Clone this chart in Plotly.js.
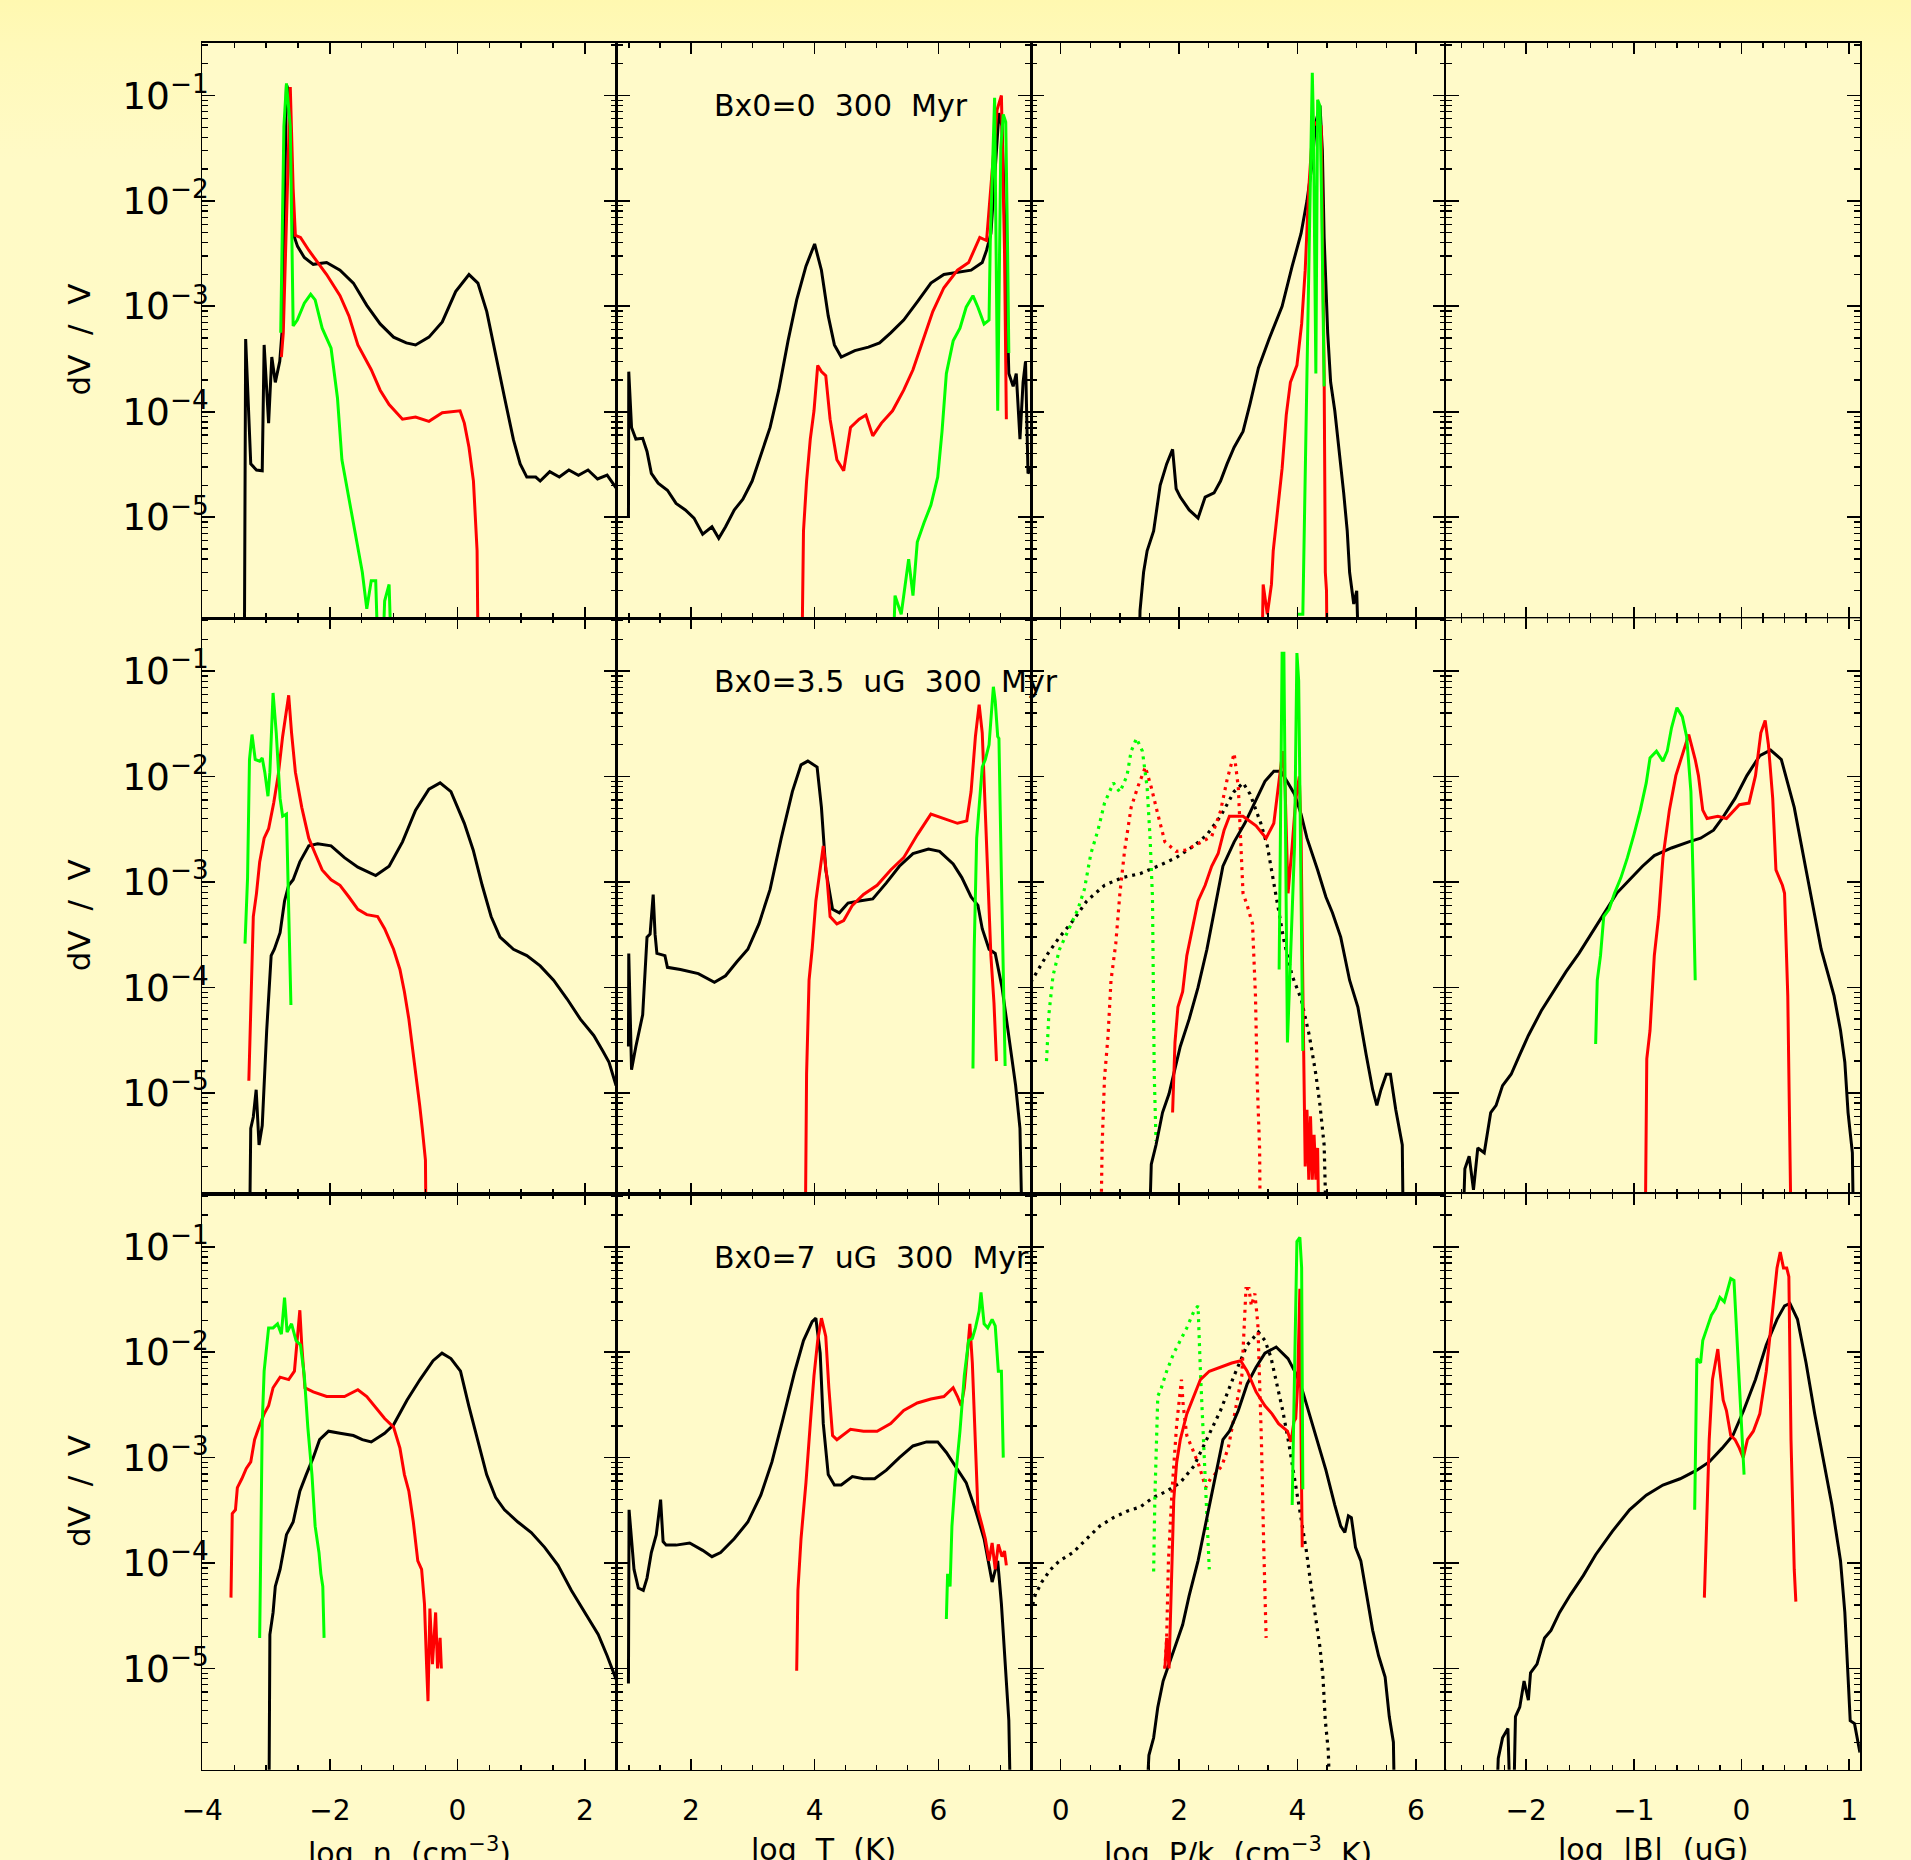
<!DOCTYPE html>
<html>
<head>
<meta charset="utf-8">
<script src="https://cdn.plot.ly/plotly-3.0.1.min.js"></script>
<style>
html,body{margin:0;padding:0;}
#wrap{width:1911px;height:1860px;background:linear-gradient(180deg,#FFF8B0 0px,#FFF9B9 45px,#FFFAC6 160px,#FFFAC9 100%);}
#chart{width:1911px;height:1860px;}
</style>
</head>
<body>
<div id="wrap"><div id="chart"></div></div>
<script>
// ---------------- DATA ----------------
// Row 1: Bx0=0
const b0_n_blk_x=[-3.345,-3.32,-3.24,-3.15,-3.06,-3.03,-2.96,-2.91,-2.855,-2.785,-2.74,-2.68,-2.645,-2.575,-2.506,-2.40,-2.26,-2.05,-1.84,-1.63,-1.42,-1.21,-1.00,-0.80,-0.655,-0.445,-0.236,-0.026,0.183,0.323,0.462,0.602,0.742,0.881,0.986,1.09,1.23,1.30,1.45,1.60,1.75,1.90,2.05,2.20,2.35,2.49];
const b0_n_blk_y=[1e-7,4.9e-4,3.2e-5,2.8e-5,2.75e-5,4.3e-4,7.8e-5,3.3e-4,1.9e-4,3.0e-4,6.8e-4,0.126,0.11,4.9e-3,3.7e-3,2.9e-3,2.5e-3,2.6e-3,2.2e-3,1.66e-3,1.02e-3,6.8e-4,5.1e-4,4.5e-4,4.3e-4,5.1e-4,7.1e-4,1.38e-3,2.0e-3,1.66e-3,8.9e-4,3.6e-4,1.35e-4,5.4e-5,3.2e-5,2.4e-5,2.4e-5,2.2e-5,2.7e-5,2.4e-5,2.8e-5,2.5e-5,2.8e-5,2.3e-5,2.5e-5,1.9e-5];
const b0_n_red_x=[-2.76,-2.73,-2.62,-2.575,-2.54,-2.46,-2.33,-2.19,-2.05,-1.84,-1.70,-1.56,-1.35,-1.21,-1.07,-0.86,-0.655,-0.445,-0.236,0.043,0.11,0.183,0.253,0.31,0.337];
const b0_n_red_y=[3.3e-4,5.6e-4,0.12,1.3e-2,4.7e-3,4.5e-3,3.4e-3,2.6e-3,2.0e-3,1.26e-3,8.1e-4,4.3e-4,2.5e-4,1.6e-4,1.17e-4,8.5e-5,8.9e-5,8.1e-5,9.8e-5,1.02e-4,7.8e-5,4.6e-5,2.2e-5,4.8e-6,1e-7];
const b0_n_grn_x=[-2.77,-2.72,-2.68,-2.62,-2.575,-2.51,-2.40,-2.30,-2.23,-2.12,-1.98,-1.88,-1.81,-1.70,-1.60,-1.49,-1.42,-1.35,-1.28,-1.21,-1.14,-1.07,-1.00];
const b0_n_grn_y=[5.6e-4,5.1e-2,0.13,5.1e-2,6.5e-4,7.4e-4,1.07e-3,1.3e-3,1.15e-3,6.2e-4,4.0e-4,1.35e-4,3.5e-5,1.55e-5,7.4e-6,3.0e-6,1.35e-6,2.5e-6,2.5e-6,1e-7,1.6e-6,2.3e-6,1e-7];

const b0_T_blk_x=[0.99,0.995,1.04,1.11,1.22,1.29,1.36,1.47,1.62,1.76,1.91,2.05,2.19,2.34,2.45,2.56,2.70,2.84,2.99,3.13,3.28,3.42,3.57,3.71,3.86,4.00,4.11,4.22,4.32,4.43,4.65,4.87,5.05,5.23,5.44,5.66,5.88,6.09,6.31,6.53,6.71,6.78,6.85,6.92,6.98,7.03,7.09,7.14,7.21,7.26,7.32,7.37,7.41,7.45,7.50];
const b0_T_blk_y=[1.0e-5,2.4e-4,7.1e-5,5.5e-5,5.6e-5,4.2e-5,2.6e-5,2.1e-5,1.8e-5,1.35e-5,1.17e-5,9.8e-6,6.9e-6,8.1e-6,6.3e-6,8.1e-6,1.17e-5,1.48e-5,2.2e-5,3.8e-5,7.1e-5,1.6e-4,4.7e-4,1.15e-3,2.4e-3,3.9e-3,2.2e-3,8.1e-4,4.3e-4,3.3e-4,3.8e-4,4.1e-4,4.5e-4,5.6e-4,7.4e-4,1.1e-3,1.66e-3,2.0e-3,2.1e-3,2.2e-3,2.6e-3,3.4e-3,4.9e-3,2.1e-2,6.8e-2,5.1e-2,3.4e-3,2.3e-4,1.74e-4,2.3e-4,5.5e-5,1.9e-4,3.0e-4,2.6e-5,2.9e-5];
const b0_T_red_x=[3.78,3.82,3.87,3.93,3.99,4.05,4.11,4.18,4.25,4.36,4.47,4.58,4.72,4.83,4.94,5.08,5.26,5.44,5.59,5.73,5.91,6.09,6.31,6.49,6.60,6.67,6.78,6.85,6.95,7.02,7.07,7.10];
const b0_T_red_y=[1e-7,7.4e-6,2.2e-5,5.5e-5,1.02e-4,2.75e-4,2.4e-4,2.2e-4,8.5e-5,3.5e-5,2.75e-5,7.1e-5,8.5e-5,9.3e-5,5.9e-5,7.8e-5,1.02e-4,1.6e-4,2.5e-4,4.3e-4,8.9e-4,1.5e-3,2.2e-3,2.6e-3,3.7e-3,4.5e-3,4.2e-3,1.3e-2,7.3e-2,0.1,3.4e-3,8.5e-5];
const b0_T_grn_x=[5.23,5.30,5.40,5.52,5.59,5.66,5.77,5.88,5.99,6.06,6.13,6.24,6.35,6.45,6.56,6.64,6.74,6.82,6.84,6.91,6.96,7.01,7.05,7.09,7.12,7.14];
const b0_T_grn_y=[1e-7,1.8e-6,1.2e-6,4.0e-6,1.8e-6,5.8e-6,8.9e-6,1.3e-5,2.4e-5,6.5e-5,2.3e-4,4.7e-4,6.2e-4,9.8e-4,1.26e-3,9.8e-4,6.8e-4,7.4e-4,4.1e-3,9.5e-2,1.02e-4,3.2e-2,6.6e-2,5.6e-2,3.4e-3,3.6e-4];

const b0_P_blk_x=[1.30,1.34,1.40,1.46,1.57,1.68,1.79,1.89,1.95,2.02,2.17,2.32,2.44,2.59,2.70,2.81,2.93,3.08,3.20,3.34,3.52,3.74,3.91,4.06,4.16,4.24,4.31,4.38,4.42,4.45,4.51,4.56,4.63,4.70,4.78,4.84,4.88,4.95,5.00,5.07];
const b0_P_blk_y=[1e-7,1.3e-6,3.0e-6,4.8e-6,7.4e-6,2.0e-5,3.2e-5,4.4e-5,1.86e-5,1.55e-5,1.17e-5,9.8e-6,1.55e-5,1.7e-5,2.2e-5,3.2e-5,4.6e-5,6.5e-5,1.2e-4,2.6e-4,4.9e-4,1.0e-3,2.4e-3,4.9e-3,1.0e-2,2.1e-2,5.6e-2,8.0e-2,3.0e-2,4.5e-3,5.6e-4,1.9e-4,1.02e-4,4.6e-5,1.7e-5,7.4e-6,3.0e-6,1.5e-6,2e-6,1e-7];
const b0_P_red_x=[3.38,3.42,3.49,3.56,3.59,3.67,3.74,3.81,3.88,3.99,4.07,4.13,4.19,4.26,4.33,4.40,4.45,4.47,4.49,4.51];
const b0_P_red_y=[1e-7,2.3e-6,1.2e-6,2.3e-6,4.8e-6,1.17e-5,2.9e-5,9.3e-5,1.9e-4,2.75e-4,6.8e-4,2.2e-3,1.3e-2,5.1e-2,5.6e-2,5.1e-2,2.3e-4,3.0e-6,2e-6,1e-7];
const b0_P_grn_x=[3.99,4.09,4.16,4.21,4.25,4.27,4.31,4.34,4.38,4.41,4.45];
const b0_P_grn_y=[1.2e-6,1.2e-6,2.3e-4,1e-2,0.164,5.1e-2,2.3e-4,9.1e-2,7.9e-2,8.3e-3,1.74e-4];

// Row 2: Bx0=3.5 uG
const b35_n_grn_x=[-3.33,-3.29,-3.26,-3.22,-3.17,-3.10,-3.06,-3.02,-2.97,-2.94,-2.89,-2.84,-2.78,-2.74,-2.68,-2.645,-2.61];
const b35_n_grn_y=[2.6e-4,1.1e-3,1.45e-2,2.5e-2,1.45e-2,1.4e-2,1.5e-2,1.1e-2,6.5e-3,1.1e-2,6.2e-2,2.6e-2,6.2e-3,4.2e-3,4.4e-3,7.2e-4,6.8e-5];
const b35_n_red_x=[-3.27,-3.24,-3.20,-3.15,-3.10,-3.03,-2.96,-2.88,-2.81,-2.74,-2.645,-2.60,-2.54,-2.44,-2.33,-2.23,-2.12,-1.98,-1.84,-1.70,-1.56,-1.42,-1.25,-1.14,-1.00,-0.90,-0.83,-0.76,-0.69,-0.64,-0.59,-0.55,-0.50,-0.48];
const b35_n_red_y=[1.3e-5,5.5e-5,4.7e-4,7.8e-4,1.55e-3,2.6e-3,3.2e-3,5.6e-3,1.02e-2,2.4e-2,5.9e-2,2.6e-2,1.1e-2,5.1e-3,2.6e-3,1.86e-3,1.3e-3,1.05e-3,9.3e-4,7.2e-4,5.5e-4,4.9e-4,4.7e-4,3.6e-4,2.3e-4,1.48e-4,9.1e-5,5.0e-5,2.3e-5,1.5e-5,7.6e-6,4.6e-6,2.3e-6,1e-7];
const b35_n_blk_x=[-3.27,-3.24,-3.20,-3.155,-3.11,-3.06,-2.99,-2.92,-2.87,-2.78,-2.71,-2.645,-2.575,-2.47,-2.33,-2.19,-1.98,-1.77,-1.56,-1.28,-1.07,-0.86,-0.655,-0.445,-0.27,-0.10,0.11,0.25,0.39,0.53,0.67,0.88,1.09,1.30,1.51,1.72,1.93,2.14,2.28,2.38,2.49];
const b35_n_blk_y=[1e-7,4.6e-6,5.9e-6,1.07e-5,3.2e-6,4.9e-6,3.9e-5,2.0e-4,2.3e-4,3.3e-4,6.6e-4,9.3e-4,1.05e-3,1.55e-3,2.2e-3,2.3e-3,2.2e-3,1.7e-3,1.38e-3,1.15e-3,1.41e-3,2.4e-3,4.8e-3,7.6e-3,8.7e-3,7.2e-3,3.6e-3,2.0e-3,9.3e-4,4.7e-4,3.0e-4,2.3e-4,2.0e-4,1.6e-4,1.17e-4,7.8e-5,5.0e-5,3.5e-5,2.5e-5,1.95e-5,1.17e-5];

const b35_T_blk_x=[0.99,0.995,1.04,1.11,1.22,1.29,1.34,1.39,1.42,1.45,1.58,1.62,1.83,2.12,2.38,2.56,2.74,2.92,3.10,3.28,3.46,3.64,3.78,3.89,4.04,4.11,4.18,4.29,4.40,4.54,4.72,4.94,5.16,5.37,5.59,5.84,6.02,6.24,6.38,6.53,6.64,6.71,6.82,6.92,7.03,7.14,7.25,7.32,7.38];
const b35_T_blk_y=[2.75e-5,2.1e-4,1.66e-5,2.75e-5,5.5e-5,3.0e-4,3.2e-4,7.6e-4,3.2e-4,2.1e-4,2.0e-4,1.55e-4,1.48e-4,1.35e-4,1.12e-4,1.29e-4,1.74e-4,2.3e-4,4.0e-4,8.5e-4,2.6e-3,7.2e-3,1.29e-2,1.4e-2,1.23e-2,5.1e-3,1.3e-3,5.5e-4,5.1e-4,6.3e-4,6.6e-4,6.9e-4,9.8e-4,1.41e-3,1.86e-3,2.05e-3,1.95e-3,1.48e-3,1.1e-3,7.2e-4,6.0e-4,3.6e-4,2.3e-4,2.1e-4,1.0e-4,3.5e-5,1.17e-5,4.6e-6,1e-7];
const b35_T_red_x=[3.84,3.87,3.91,3.96,4.02,4.09,4.14,4.20,4.25,4.36,4.47,4.61,4.79,5.01,5.23,5.44,5.66,5.88,6.09,6.31,6.46,6.53,6.60,6.66,6.71,6.78,6.85,6.90,6.94];
const b35_T_red_y=[1e-7,1.5e-5,1.17e-4,2.3e-4,6.6e-4,1.3e-3,2.2e-3,1.1e-3,4.7e-4,4.0e-4,4.3e-4,6.0e-4,7.6e-4,9.3e-4,1.3e-3,1.7e-3,2.8e-3,4.4e-3,4.0e-3,3.6e-3,3.8e-3,7.2e-3,2.4e-2,4.8e-2,2.6e-2,2.6e-3,2.0e-4,7.1e-5,2.0e-5];
const b35_T_grn_x=[6.56,6.58,6.62,6.66,6.71,6.76,6.82,6.89,6.92,6.96,6.98,7.02,7.05,7.08];
const b35_T_grn_y=[1.7e-5,2.3e-4,2.6e-3,5.1e-3,1.23e-2,1.45e-2,2.0e-2,7.1e-2,5.2e-2,2.4e-2,2.3e-2,1.1e-3,1.29e-4,1.8e-5];

const b35_P_blk_x=[1.46,1.53,1.61,1.72,1.83,1.95,2.02,2.17,2.32,2.47,2.62,2.74,2.93,3.11,3.30,3.45,3.60,3.72,3.84,3.95,4.06,4.16,4.34,4.48,4.59,4.73,4.88,5.02,5.16,5.27,5.34,5.41,5.50,5.57,5.66,5.77,5.80];
const b35_P_blk_y=[1e-7,2.1e-6,3.2e-6,6.5e-6,9.8e-6,1.95e-5,2.75e-5,5.0e-5,1.0e-4,2.3e-4,6.6e-4,1.41e-3,2.4e-3,3.6e-3,6.0e-3,9.0e-3,1.12e-2,1.12e-2,8.7e-3,6.8e-3,4.4e-3,2.6e-3,1.3e-3,7.2e-4,5.1e-4,3.0e-4,1.17e-4,6.5e-5,2.3e-5,1.07e-5,7.6e-6,1.07e-5,1.5e-5,1.5e-5,6.9e-6,3.2e-6,1e-7];
const b35_P_red_x=[1.89,1.93,1.98,2.06,2.13,2.21,2.32,2.44,2.55,2.66,2.76,2.85,3.08,3.30,3.47,3.60,3.66,3.72,3.75,3.79,3.84,3.91,3.97,4.03,4.06,4.09,4.11,4.13,4.16,4.19,4.22,4.25,4.28,4.31,4.34,4.38];
const b35_P_red_y=[6.5e-6,3.0e-5,6.5e-5,9.1e-5,2.0e-4,3.3e-4,6.6e-4,9.3e-4,1.41e-3,1.86e-3,3.1e-3,4.2e-3,4.2e-3,3.4e-3,2.6e-3,3.6e-3,7e-3,1.3e-2,1.74e-2,8e-3,7.8e-4,2.2e-3,6e-3,1.0e-2,3e-3,1e-4,6.9e-6,2e-6,6.9e-6,1.5e-6,6e-6,1.5e-6,4e-6,1.5e-6,3e-6,1e-7];
const b35_P_grn_x=[3.69,3.72,3.74,3.77,3.80,3.83,3.95,3.99,4.02,4.06,4.09];
const b35_P_grn_y=[1.48e-4,6.2e-3,0.148,0.148,2.6e-3,3.0e-5,2.2e-3,0.148,8.1e-2,1.1e-3,2.5e-5];
const b35_P_blkDot_x=[-0.505,-0.24,-0.02,0.21,0.44,0.74,1.04,1.34,1.64,1.95,2.25,2.47,2.70,2.93,3.08,3.20,3.38,3.49,3.63,3.77,3.91,4.06,4.20,4.31,4.38,4.45,4.52];
const b35_P_blkDot_y=[1.12e-4,2.0e-4,3.0e-4,4.3e-4,6.6e-4,9.3e-4,1.1e-3,1.2e-3,1.41e-3,1.7e-3,2.2e-3,2.8e-3,4.2e-3,7.2e-3,8.7e-3,6.8e-3,3.6e-3,2.2e-3,7.8e-4,2.8e-4,1.29e-4,7.8e-5,3.5e-5,1.5e-5,7.6e-6,3.2e-6,1e-7];
const b35_P_redDot_x=[0.66,0.70,0.74,0.80,0.85,0.93,1.00,1.08,1.19,1.30,1.43,1.53,1.64,1.76,1.95,2.10,2.32,2.55,2.70,2.81,2.93,3.00,3.08,3.15,3.24,3.29,3.32,3.36,3.38];
const b35_P_redDot_y=[1e-7,3.2e-6,1.38e-5,3.5e-5,1.17e-4,2.6e-4,7.8e-4,2.0e-3,5.1e-3,7.9e-3,1.23e-2,7.9e-3,4.4e-3,2.4e-3,1.95e-3,2.0e-3,2.3e-3,2.7e-3,4.7e-3,9.3e-3,1.66e-2,7.9e-3,7.8e-4,6.0e-4,4.0e-4,8.3e-5,1.26e-5,2.95e-6,1e-7];
const b35_P_grnDot_x=[-0.24,-0.20,-0.13,-0.02,0.14,0.29,0.40,0.51,0.63,0.74,0.89,1.00,1.12,1.19,1.28,1.38,1.46,1.51,1.55,1.57,1.58,1.61];
const b35_P_grnDot_y=[2.0e-5,5.5e-5,1.29e-4,2.3e-4,3.6e-4,5.5e-4,8.5e-4,1.86e-3,3.1e-3,5.6e-3,8.7e-3,7.1e-3,1.02e-2,1.74e-2,2.3e-2,1.74e-2,7.9e-3,2.6e-3,7.2e-4,8.3e-5,1.5e-5,3.5e-6];

const b35_B_blk_x=[-2.61,-2.57,-2.53,-2.49,-2.45,-2.39,-2.33,-2.28,-2.22,-2.14,-2.06,-1.98,-1.86,-1.75,-1.63,-1.51,-1.39,-1.28,-1.16,-1.04,-0.92,-0.81,-0.65,-0.49,-0.38,-0.26,-0.18,-0.06,0.05,0.17,0.27,0.37,0.49,0.60,0.74,0.86,0.92,0.96,0.99,1.03,1.05];
const b35_B_blk_y=[1e-7,1.9e-6,2.5e-6,1.2e-6,3.0e-6,2.7e-6,6.5e-6,7.6e-6,1.17e-5,1.5e-5,2.3e-5,3.5e-5,6.0e-5,9.1e-5,1.41e-4,2.1e-4,3.3e-4,5.1e-4,7.8e-4,1.05e-3,1.41e-3,1.78e-3,2.1e-3,2.4e-3,2.6e-3,3.1e-3,4.0e-3,6.2e-3,1.02e-2,1.58e-2,1.78e-2,1.45e-2,5.1e-3,1.3e-3,2.3e-4,8.3e-5,3.9e-5,1.95e-5,6.5e-6,2.7e-6,1e-7];
const b35_B_grn_x=[-1.355,-1.34,-1.31,-1.28,-1.23,-1.18,-1.12,-1.06,-1.00,-0.94,-0.885,-0.85,-0.79,-0.73,-0.69,-0.65,-0.60,-0.55,-0.51,-0.47,-0.45,-0.43];
const b35_B_grn_y=[2.9e-5,1.17e-4,2.0e-4,4.7e-4,5.5e-4,7.8e-4,1.1e-3,1.7e-3,2.8e-3,4.8e-3,8.7e-3,1.5e-2,1.74e-2,1.4e-2,1.74e-2,2.9e-2,4.5e-2,3.7e-2,2.4e-2,7.2e-3,1.1e-3,1.17e-4];
const b35_B_red_x=[-0.90,-0.88,-0.85,-0.81,-0.77,-0.73,-0.67,-0.61,-0.53,-0.49,-0.43,-0.40,-0.36,-0.32,-0.22,-0.14,-0.02,0.07,0.13,0.18,0.22,0.25,0.29,0.32,0.38,0.40,0.43,0.45,0.47];
const b35_B_red_y=[1e-7,2.1e-5,3.9e-5,2.0e-4,4.7e-4,1.7e-3,4.8e-3,1.02e-2,1.86e-2,2.5e-2,1.45e-2,1.02e-2,4.8e-3,4.0e-3,4.2e-3,4.0e-3,5.4e-3,5.6e-3,1.02e-2,2.6e-2,3.4e-2,2.0e-2,6.2e-3,1.3e-3,9.3e-4,7.8e-4,8.3e-5,6.5e-6,1e-7];

// Row 3: Bx0=7 uG
const b7_n_red_x=[-3.55,-3.53,-3.48,-3.45,-3.38,-3.31,-3.24,-3.18,-3.11,-3.03,-2.96,-2.89,-2.78,-2.645,-2.555,-2.51,-2.47,-2.44,-2.39,-2.26,-2.05,-1.77,-1.56,-1.42,-1.28,-1.14,-1.00,-0.90,-0.83,-0.76,-0.69,-0.62,-0.56,-0.515,-0.48,-0.46,-0.43,-0.39,-0.34,-0.31,-0.27,-0.25];
const b7_n_red_y=[4.7e-5,2.95e-4,3.2e-4,5.2e-4,6.3e-4,7.9e-4,9.1e-4,1.48e-3,1.95e-3,2.6e-3,3.1e-3,4.6e-3,5.8e-3,5.5e-3,6.6e-3,1.29e-2,2.5e-2,1.17e-2,4.6e-3,4.2e-3,3.8e-3,3.8e-3,4.4e-3,3.8e-3,3.0e-3,2.35e-3,1.95e-3,1.23e-3,6.9e-4,4.8e-4,2.45e-4,1.05e-4,8.7e-5,4.1e-5,1.0e-5,4.9e-6,3.7e-5,1.1e-5,3.4e-5,1.0e-5,1.95e-5,1.0e-5];
const b7_n_grn_x=[-3.10,-3.06,-3.03,-2.96,-2.89,-2.82,-2.76,-2.71,-2.67,-2.60,-2.53,-2.46,-2.40,-2.345,-2.28,-2.23,-2.17,-2.14,-2.11,-2.09];
const b7_n_grn_y=[1.95e-5,2.1e-3,6.6e-3,1.7e-2,1.7e-2,1.86e-2,1.48e-2,3.3e-2,1.55e-2,1.86e-2,1.29e-2,1.17e-2,6.0e-3,1.95e-3,6.9e-4,2.24e-4,1.26e-4,7.9e-5,6.0e-5,1.95e-5];
const b7_n_blk_x=[-2.96,-2.94,-2.89,-2.855,-2.78,-2.68,-2.575,-2.47,-2.37,-2.26,-2.16,-2.02,-1.84,-1.63,-1.49,-1.35,-1.14,-1.00,-0.79,-0.585,-0.38,-0.24,-0.10,0.05,0.18,0.32,0.46,0.60,0.74,0.95,1.16,1.37,1.58,1.79,2.00,2.21,2.35,2.49];
const b7_n_blk_y=[1e-7,2.1e-5,3.4e-5,6.0e-5,8.7e-5,1.86e-4,2.45e-4,4.8e-4,6.9e-4,1.0e-3,1.48e-3,1.78e-3,1.7e-3,1.62e-3,1.48e-3,1.41e-3,1.7e-3,2.05e-3,3.5e-3,5.5e-3,8.3e-3,9.8e-3,8.7e-3,6.6e-3,3.1e-3,1.48e-3,6.9e-4,4.2e-4,3.2e-4,2.45e-4,1.95e-4,1.41e-4,9.5e-5,5.5e-5,3.4e-5,2.1e-5,1.32e-5,7.9e-6];

const b7_T_blk_x=[0.99,1.00,1.08,1.15,1.23,1.29,1.36,1.44,1.51,1.55,1.60,1.76,1.98,2.19,2.34,2.48,2.70,2.92,3.13,3.31,3.49,3.68,3.82,3.96,4.02,4.09,4.14,4.22,4.32,4.43,4.61,4.79,4.97,5.16,5.37,5.59,5.81,5.99,6.13,6.27,6.45,6.60,6.74,6.87,6.96,7.02,7.09,7.14,7.19];
const b7_T_blk_y=[7.2e-6,3.2e-4,8.7e-5,5.8e-5,5.5e-5,7.2e-5,1.26e-4,1.86e-4,4.0e-4,1.6e-4,1.48e-4,1.48e-4,1.55e-4,1.32e-4,1.15e-4,1.26e-4,1.7e-4,2.45e-4,4.4e-4,9.1e-4,2.35e-3,6.6e-3,1.29e-2,1.95e-2,2.1e-2,9.8e-3,2.1e-3,6.9e-4,5.5e-4,5.5e-4,6.6e-4,6.3e-4,6.3e-4,7.6e-4,1.0e-3,1.29e-3,1.41e-3,1.41e-3,1.12e-3,8.3e-4,5.8e-4,3.2e-4,1.7e-4,6.6e-5,1.05e-4,4.1e-5,1.0e-5,3.2e-6,1e-7];
const b7_T_red_x=[3.71,3.73,3.78,3.86,3.93,3.99,4.05,4.11,4.18,4.23,4.29,4.36,4.58,4.79,5.01,5.23,5.44,5.66,5.88,6.09,6.24,6.31,6.37,6.42,6.47,6.51,6.55,6.60,6.64,6.71,6.76,6.82,6.87,6.92,6.97,7.03,7.07,7.10];
const b7_T_red_y=[9.5e-6,5.5e-5,1.7e-4,5.8e-4,2.1e-3,6.0e-3,1.29e-2,2.1e-2,1.41e-2,4.6e-3,1.62e-3,1.48e-3,1.86e-3,1.78e-3,1.78e-3,2.1e-3,2.8e-3,3.3e-3,3.6e-3,3.8e-3,4.6e-3,3.8e-3,3.1e-3,4.6e-3,9.8e-3,1.86e-2,7.9e-3,1.23e-3,3.2e-4,2.24e-4,1.7e-4,1.05e-4,1.55e-4,8.7e-5,1.5e-4,1.15e-4,1.3e-4,9.5e-5];
const b7_T_grn_x=[6.13,6.15,6.19,6.22,6.27,6.35,6.42,6.49,6.55,6.60,6.66,6.69,6.74,6.80,6.87,6.92,6.97,7.02,7.05];
const b7_T_grn_y=[2.95e-5,7.9e-5,6e-5,2.24e-4,5.8e-4,1.78e-3,6.0e-3,1.29e-2,1.35e-2,1.7e-2,2.45e-2,3.7e-2,1.86e-2,1.7e-2,2.05e-2,1.78e-2,6.6e-3,6.6e-3,1.0e-3];

const b7_P_blk_x=[1.38,1.49,1.57,1.64,1.73,1.83,1.95,2.06,2.17,2.32,2.47,2.62,2.74,2.85,3.00,3.15,3.30,3.45,3.64,3.84,3.99,4.09,4.20,4.34,4.48,4.63,4.73,4.80,4.86,4.91,4.98,5.07,5.16,5.27,5.37,5.48,5.55,5.62,5.66];
const b7_P_blk_y=[1e-7,1.5e-6,2.2e-6,4.3e-6,7.6e-6,1.1e-5,1.78e-5,2.6e-5,4.9e-5,1.05e-4,2.7e-4,6.9e-4,1.48e-3,1.78e-3,2.8e-3,5.0e-3,7.2e-3,9.8e-3,1.12e-2,8.7e-3,6.0e-3,4.2e-3,2.6e-3,1.48e-3,7.6e-4,3.55e-4,2.24e-4,1.95e-4,2.8e-4,2.7e-4,1.41e-4,1.05e-4,5.5e-5,2.3e-5,1.32e-5,8.3e-6,3.5e-6,2.0e-6,1e-7];
const b7_P_red_x=[1.76,1.79,1.83,1.87,1.91,1.96,2.02,2.13,2.25,2.36,2.51,2.70,2.89,3.04,3.15,3.30,3.45,3.57,3.68,3.83,3.89,3.94,3.97,4.00,4.04,4.06,4.08];
const b7_P_red_y=[1.0e-5,1.95e-5,1.0e-5,8.7e-5,4.0e-4,9.1e-4,1.48e-3,2.6e-3,3.8e-3,5.5e-3,6.6e-3,7.2e-3,7.9e-3,8.3e-3,6.6e-3,4.2e-3,3.1e-3,2.6e-3,2.1e-3,1.78e-3,1.41e-3,2.2e-3,2.35e-3,4.6e-3,4.0e-2,1.5e-3,1.41e-4];
const b7_P_grn_x=[3.91,3.95,3.99,4.04,4.07,4.09];
const b7_P_grn_y=[3.55e-4,9.8e-3,0.112,0.123,6.3e-2,5.0e-4];
const b7_P_blkDot_x=[-0.505,-0.43,-0.32,-0.17,-0.02,0.21,0.44,0.66,0.89,1.12,1.34,1.57,1.79,2.02,2.25,2.47,2.70,2.93,3.15,3.34,3.45,3.55,3.65,3.75,3.85,3.95,4.05,4.15,4.23,4.31,4.38,4.43,4.47,4.52,4.59];
const b7_P_blkDot_y=[3.4e-5,5.0e-5,6.6e-5,8.7e-5,1.05e-4,1.26e-4,1.7e-4,2.24e-4,2.7e-4,3.1e-4,3.4e-4,4.2e-4,4.8e-4,5.8e-4,8.3e-4,1.48e-3,2.8e-3,6.0e-3,1.17e-2,1.55e-2,1.29e-2,9e-3,5e-3,2.8e-3,1.4e-3,6.5e-4,2.8e-4,1.3e-4,6.0e-5,3.1e-5,1.58e-5,8.3e-6,3.2e-6,1.66e-6,1e-7];
const b7_P_redDot_x=[1.76,1.79,1.82,1.88,1.96,2.04,2.07,2.13,2.22,2.34,2.45,2.53,2.60,2.72,2.83,2.94,3.06,3.13,3.18,3.22,3.28,3.33,3.39,3.43,3.47];
const b7_P_redDot_y=[1.0e-5,1.95e-5,1.05e-4,4.8e-4,2.1e-3,5.5e-3,3.1e-3,1.62e-3,1.23e-3,8.3e-4,5.2e-4,6.3e-4,6.9e-4,8.3e-4,1.23e-3,2.6e-3,6.0e-3,4.0e-2,4.0e-2,2.75e-2,3.6e-2,1.86e-2,1.48e-3,1.41e-4,1.95e-5];
const b7_P_grnDot_x=[1.57,1.59,1.64,1.70,1.79,1.91,2.02,2.13,2.25,2.32,2.36,2.41,2.47,2.51];
const b7_P_grnDot_y=[8.3e-5,4.0e-4,3.8e-3,4.6e-3,6.6e-3,9.8e-3,1.29e-2,1.7e-2,2.45e-2,2.75e-2,6.6e-3,1.48e-3,2.24e-4,8.7e-5];

const b7_B_blk_x=[-2.30,-2.26,-2.22,-2.17,-2.13,-2.10,-2.06,-2.02,-1.98,-1.96,-1.90,-1.83,-1.77,-1.69,-1.59,-1.47,-1.355,-1.20,-1.04,-0.885,-0.73,-0.57,-0.415,-0.30,-0.18,-0.08,0.02,0.13,0.23,0.33,0.40,0.45,0.52,0.60,0.68,0.76,0.84,0.92,0.96,0.99,1.01,1.05,1.08,1.10];
const b7_B_blk_y=[1e-7,1.4e-6,2.2e-6,2.7e-6,1e-7,3.5e-6,4.3e-6,7.6e-6,5e-6,9.1e-6,1.1e-5,1.95e-5,2.3e-5,3.4e-5,5.0e-5,7.6e-5,1.2e-4,2.0e-4,3.2e-4,4.4e-4,5.5e-4,6.3e-4,7.6e-4,9.1e-4,1.23e-3,1.62e-3,2.8e-3,5.5e-3,1.17e-2,2.05e-2,2.75e-2,2.9e-2,2.05e-2,7.9e-3,2.6e-3,1.0e-3,3.55e-4,1.05e-4,3.4e-5,8.3e-6,3.2e-6,3.0e-6,2.0e-6,1.6e-6];
const b7_B_grn_x=[-0.435,-0.415,-0.38,-0.36,-0.32,-0.28,-0.24,-0.20,-0.16,-0.13,-0.10,-0.07,-0.04,-0.016,0.008,0.024];
const b7_B_grn_y=[3.2e-4,8.7e-3,7.9e-3,1.29e-2,1.7e-2,2.24e-2,2.6e-2,3.3e-2,3.0e-2,4.0e-2,5.0e-2,4.8e-2,1.17e-2,5.0e-3,1.48e-3,6.9e-4];
const b7_B_red_x=[-0.345,-0.33,-0.30,-0.27,-0.24,-0.22,-0.20,-0.17,-0.14,-0.10,-0.06,-0.02,0.016,0.055,0.11,0.17,0.23,0.29,0.33,0.36,0.39,0.42,0.44,0.46,0.49,0.505];
const b7_B_red_y=[4.7e-5,1.55e-4,1.48e-3,5.5e-3,8.7e-3,1.07e-2,6.6e-3,3.5e-3,2.8e-3,1.62e-3,1.48e-3,1.23e-3,1.0e-3,1.48e-3,1.78e-3,2.6e-3,6.6e-3,2.45e-2,6.3e-2,8.9e-2,6.3e-2,6.3e-2,5.2e-2,1.48e-3,8.7e-5,4.3e-5];

// labels
const rowLabels=['Bx0=0\u00a0 300\u00a0 Myr','Bx0=3.5\u00a0 uG\u00a0 300\u00a0 Myr','Bx0=7\u00a0 uG\u00a0 300\u00a0 Myr'];
const xTitles=['log\u00a0 n\u00a0 (cm<sup>\u22123</sup>)','log\u00a0 T\u00a0 (K)','log\u00a0 P/k\u00a0 (cm<sup>\u22123</sup>\u00a0 K)','log\u00a0 |B|\u00a0 (uG)'];
const yTitle='dV\u00a0 /\u00a0 V';
const xRanges=[[-4,2.5],[0.8,7.5],[-0.5,6.5],[-2.75,1.1]];
const xMajor=[2,2,2,1];
const xMinor=[0.5,0.5,0.5,0.2];
const yRangeLog=[-5.96,-0.5];

// ---------------- BUILD ----------------
const W=1911,H=1860;
const colL=202.3,colW=414.4,rowT=42.7,rowH=575.67;
const BLACK='#000000',RED='#ff0000',GREEN='#00ff00';
const FONT='DejaVu Sans, Liberation Sans, sans-serif';
const traces=[];
function add(xs,ys,r,c,color,dotted){
  const k=r*4+c+1;
  traces.push({type:'scatter',mode:'lines',x:xs,y:ys,
    xaxis:k===1?'x':'x'+k,yaxis:k===1?'y':'y'+k,
    line:{color:color,width:dotted?3.2:3,dash:dotted?'3px,5px':'solid'},
    hoverinfo:'skip',showlegend:false});
}
// row 0
add(b0_n_blk_x,b0_n_blk_y,0,0,BLACK);add(b0_n_red_x,b0_n_red_y,0,0,RED);add(b0_n_grn_x,b0_n_grn_y,0,0,GREEN);
add(b0_T_blk_x,b0_T_blk_y,0,1,BLACK);add(b0_T_red_x,b0_T_red_y,0,1,RED);add(b0_T_grn_x,b0_T_grn_y,0,1,GREEN);
add(b0_P_blk_x,b0_P_blk_y,0,2,BLACK);add(b0_P_red_x,b0_P_red_y,0,2,RED);add(b0_P_grn_x,b0_P_grn_y,0,2,GREEN);
add([],[],0,3,BLACK); // empty |B| panel for Bx0=0
// row 1
add(b35_n_blk_x,b35_n_blk_y,1,0,BLACK);add(b35_n_red_x,b35_n_red_y,1,0,RED);add(b35_n_grn_x,b35_n_grn_y,1,0,GREEN);
add(b35_T_blk_x,b35_T_blk_y,1,1,BLACK);add(b35_T_red_x,b35_T_red_y,1,1,RED);add(b35_T_grn_x,b35_T_grn_y,1,1,GREEN);
add(b35_P_blkDot_x,b35_P_blkDot_y,1,2,BLACK,true);add(b35_P_redDot_x,b35_P_redDot_y,1,2,RED,true);add(b35_P_grnDot_x,b35_P_grnDot_y,1,2,GREEN,true);
add(b35_P_blk_x,b35_P_blk_y,1,2,BLACK);add(b35_P_red_x,b35_P_red_y,1,2,RED);add(b35_P_grn_x,b35_P_grn_y,1,2,GREEN);
add(b35_B_blk_x,b35_B_blk_y,1,3,BLACK);add(b35_B_red_x,b35_B_red_y,1,3,RED);add(b35_B_grn_x,b35_B_grn_y,1,3,GREEN);
// row 2
add(b7_n_blk_x,b7_n_blk_y,2,0,BLACK);add(b7_n_red_x,b7_n_red_y,2,0,RED);add(b7_n_grn_x,b7_n_grn_y,2,0,GREEN);
add(b7_T_blk_x,b7_T_blk_y,2,1,BLACK);add(b7_T_red_x,b7_T_red_y,2,1,RED);add(b7_T_grn_x,b7_T_grn_y,2,1,GREEN);
add(b7_P_blkDot_x,b7_P_blkDot_y,2,2,BLACK,true);add(b7_P_redDot_x,b7_P_redDot_y,2,2,RED,true);add(b7_P_grnDot_x,b7_P_grnDot_y,2,2,GREEN,true);
add(b7_P_blk_x,b7_P_blk_y,2,2,BLACK);add(b7_P_red_x,b7_P_red_y,2,2,RED);add(b7_P_grn_x,b7_P_grn_y,2,2,GREEN);
add(b7_B_blk_x,b7_B_blk_y,2,3,BLACK);add(b7_B_red_x,b7_B_red_y,2,3,RED);add(b7_B_grn_x,b7_B_grn_y,2,3,GREEN);

const layout={width:W,height:H,autosize:false,margin:{l:0,r:0,t:0,b:0,pad:0},
  paper_bgcolor:'rgba(0,0,0,0)',plot_bgcolor:'#FFFAC9',showlegend:false,
  font:{family:FONT,color:'#000',size:28},annotations:[]};
for(let r=0;r<3;r++){
  for(let c=0;c<4;c++){
    const k=r*4+c+1;
    const xs=k===1?'':String(k);
    const x0=colL+colW*c, x1=x0+colW;
    const yTop=rowT+rowH*r, yBot=yTop+rowH;
    layout['xaxis'+xs]={domain:[x0/W,x1/W],anchor:'y'+xs,range:xRanges[c],
      tickmode:'linear',tick0:0,dtick:xMajor[c],ticks:'inside',ticklen:11,tickwidth:1.6,tickcolor:'#000',
      minor:{ticks:'inside',ticklen:5,tickwidth:1.3,tickcolor:'#000',tick0:0,dtick:xMinor[c],showgrid:false},
      showline:true,linecolor:'#000',linewidth:1.6,mirror:'ticks',showgrid:false,zeroline:false,
      showticklabels:r===2,ticklabelstandoff:15,tickfont:{family:FONT,size:28,color:'#000'},fixedrange:true};
    layout['yaxis'+xs]={domain:[1-yBot/H,1-yTop/H],anchor:'x'+xs,type:'log',range:yRangeLog,
      tickmode:'linear',tick0:0,dtick:1,exponentformat:'power',showexponent:'all',
      ticks:'inside',ticklen:13,tickwidth:1.6,tickcolor:'#000',
      minor:{ticks:'inside',ticklen:6,tickwidth:1.3,tickcolor:'#000',dtick:'D1',showgrid:false},
      showline:true,linecolor:'#000',linewidth:1.6,mirror:'ticks',showgrid:false,zeroline:false,
      showticklabels:c===0,ticklabelstandoff:-14,tickfont:{family:FONT,size:30,color:'#000'},fixedrange:true};
  }
  // row label
  layout.annotations.push({xref:'paper',yref:'paper',x:712/W,y:1-(rowT+rowH*r+63)/H,xanchor:'left',yanchor:'middle',
    text:rowLabels[r],showarrow:false,font:{family:FONT,size:30,color:'#000'}});
  // y title
  layout.annotations.push({xref:'paper',yref:'paper',x:79/W,y:1-(rowT+rowH*(r+0.5)+9)/H,xanchor:'center',yanchor:'middle',
    text:yTitle,textangle:-90,showarrow:false,font:{family:FONT,size:31,color:'#000'}});
}
for(let c=0;c<4;c++){
  layout.annotations.push({xref:'paper',yref:'paper',x:(colL+colW*(c+0.5))/W,y:1-1830/H,xanchor:'center',yanchor:'top',
    text:xTitles[c],showarrow:false,font:{family:FONT,size:30,color:'#000'}});
}
Plotly.newPlot('chart',traces,layout,{staticPlot:true,displayModeBar:false});
</script>
</body>
</html>
